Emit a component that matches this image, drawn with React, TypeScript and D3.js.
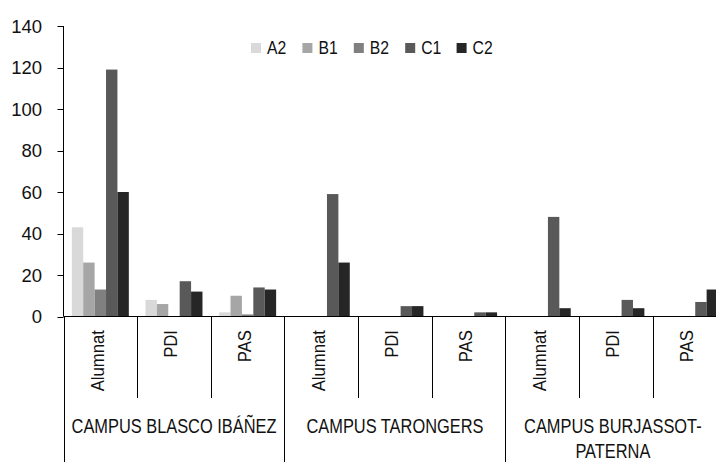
import React from "react";
import * as d3 from "d3";

const series = ["A2", "B1", "B2", "C1", "C2"];
const colors = ["#d9d9d9", "#a6a6a6", "#808080", "#595959", "#262626"];
const campuses = ["CAMPUS BLASCO IBÁÑEZ", "CAMPUS TARONGERS", "CAMPUS BURJASSOT-\nPATERNA"];
const groups = ["Alumnat", "PDI", "PAS"];
const yTicks = [0, 20, 40, 60, 80, 100, 120, 140];

// values per category (campus x group), order A2, B1, B2, C1, C2
const blascoAlumnat = [43, 26, 13, 119, 60];
const blascoPDI = [8, 6, 0, 17, 12];
const blascoPAS = [2, 10, 1, 14, 13];
const tarongersAlumnat = [0, 0, 0, 59, 26];
const tarongersPDI = [0, 0, 0, 5, 5];
const tarongersPAS = [0, 0, 0, 2, 2];
const burjassotAlumnat = [0, 0, 0, 48, 4];
const burjassotPDI = [0, 0, 0, 8, 4];
const burjassotPAS = [0, 0, 0, 7, 13];

const values = [
  blascoAlumnat, blascoPDI, blascoPAS,
  tarongersAlumnat, tarongersPDI, tarongersPAS,
  burjassotAlumnat, burjassotPDI, burjassotPAS,
];

const W = 716;
const H = 462;
const FONT = "'Liberation Sans', Arial, sans-serif";

export default function App() {
  const categories = values.map((_, i) => `${i}`);
  const x0 = 63.5;
  const step = 73.65;
  const x = d3.scaleBand<string>().domain(categories).range([x0, x0 + step * categories.length]).padding(0);
  const xs = d3.scaleBand<string>().domain(series).range([0, x.bandwidth()]).paddingInner(0).paddingOuter(0.73);
  const y = d3.scaleLinear().domain([0, 140]).range([316.5, 26]);
  const base = y(0);

  const boundaries = d3.range(categories.length + 1);

  return (
    <div style={{ position: "fixed", left: 0, top: 0 }}>
      <svg width={W} height={H} style={{ display: "block", background: "#fff", fontFamily: FONT }}>
        <rect x={0} y={0} width={W} height={H} fill="#fff" />
        {/* bars */}
        {values.map((vals, ci) => (
          <g key={ci} transform={`translate(${x(categories[ci])},0)`}>
            {vals.map((v, si) =>
              v > 0 ? (
                <rect
                  key={si}
                  x={xs(series[si])}
                  y={y(v)}
                  width={xs.bandwidth()}
                  height={base - y(v)}
                  fill={colors[si]}
                />
              ) : null
            )}
          </g>
        ))}
        {/* y axis */}
        <line x1={x0} x2={x0} y1={y(140)} y2={base} stroke="#000" strokeWidth={1} />
        {yTicks.map((t) => (
          <g key={t}>
            <line x1={x0 - 6} x2={x0} y1={Math.round(y(t)) + 0.5} y2={Math.round(y(t)) + 0.5} stroke="#000" strokeWidth={1} />
            <text x={42} y={y(t)} dy="0.36em" textAnchor="end" fontSize={18.5} fill="#111">
              {t}
            </text>
          </g>
        ))}
        {/* x axis */}
        <line x1={x0} x2={x0 + step * categories.length} y1={base} y2={base} stroke="#000" strokeWidth={1} />
        {boundaries.map((b) => {
          const bx = Math.round(x0 + b * step) + 0.5;
          const long = b % 3 === 0;
          return (
            <line key={b} x1={bx} x2={bx} y1={base} y2={long ? H : 398} stroke="#000" strokeWidth={1} />
          );
        })}
        {/* category labels */}
        {categories.map((c, i) => {
          const cx = (x(c) as number) + x.bandwidth() / 2;
          return (
            <text
              key={c}
              transform={`translate(${cx + 3.5},330) rotate(-90) scale(0.88,1)`}
              textAnchor="end"
              fontSize={19}
              fill="#111"
            >
              {groups[i % 3]}
            </text>
          );
        })}
        {/* campus labels */}
        {campuses.map((cName, gi) => {
          const gx = x0 + (gi * 3 + 1.5) * step;
          const lines = cName.split("\n");
          return (
            <g key={gi}>
              {lines.map((ln, li) => (
                <text
                  key={li}
                  transform={`translate(${gx - (gi === 2 ? 3 : 0)},${433 + li * 25}) scale(0.8,1)`}
                  textAnchor="middle"
                  fontSize={20.5}
                  fill="#111"
                >
                  {ln}
                </text>
              ))}
            </g>
          );
        })}
        {/* legend */}
        {series.map((s, i) => {
          const lx = 251 + i * 51.4;
          return (
            <g key={s}>
              <rect x={lx} y={43} width={10} height={10} fill={colors[i]} />
              <text transform={`translate(${lx + 16},53.5) scale(0.9,1)`} fontSize={17.5} fill="#111">
                {s}
              </text>
            </g>
          );
        })}
      </svg>
    </div>
  );
}
